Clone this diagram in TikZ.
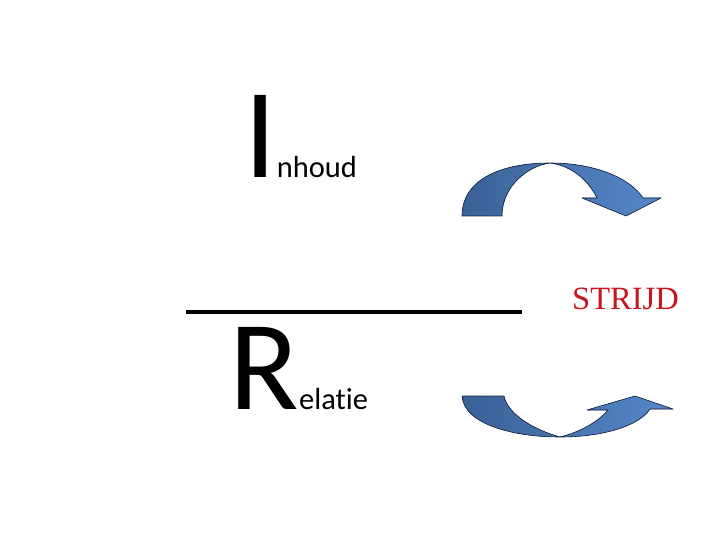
\documentclass[tikz,border=0pt]{standalone}
\usepackage{fontspec}
\setmainfont[Ligatures=NoCommon]{Carlito}
\newfontfamily\strijdfont{Liberation Serif}
\usetikzlibrary{positioning}
\definecolor{banddark}{RGB}{58,96,150}
\definecolor{bandmid}{RGB}{72,115,175}
\definecolor{bandlight}{RGB}{84,135,200}
\definecolor{bandedge}{RGB}{20,35,70}
\definecolor{strijdred}{RGB}{200,20,30}

\begin{document}
\begin{tikzpicture}[
    x=1pt, y=-1pt,
    bigletter/.style={inner sep=0pt, anchor=base west, font=\fontsize{128}{128}\selectfont},
    smallword/.style={inner sep=0pt, anchor=base west, font=\fontsize{30.5}{30.5}\selectfont},
    band/.style={draw=bandedge, line width=0.6pt, line join=round},
    leftband/.style={band, left color=banddark, right color=bandmid},
    rightband/.style={band, left color=bandmid, right color=bandlight}
]
\useasboundingbox (0,0) rectangle (720,540);

% woorden
\node[bigletter] (I) at (244,178) {I};
\node[smallword, right=0pt of I.base east, anchor=base west] (nhoud) {nhoud};
\node[bigletter] (R) at (229,409) {R};
\node[smallword, right=0pt of R.base east, anchor=base west] (elatie) {elatie};

% breukstreep
\coordinate (lineL) at (186,312);
\coordinate (lineR) at (522,312);
\draw[line width=4pt] (lineL) -- (lineR);

\node[inner sep=0pt, anchor=base west, text=strijdred,
      font=\strijdfont\fontsize{32.5}{32.5}\selectfont] (strijd) at (572,309) {STRIJD};

% bovenste pijl
\coordinate (topL) at (462,216);
\coordinate (topLi) at (502,216);
\coordinate (topPeak) at (550,163);
\filldraw[leftband] (topL) .. controls (462,180) and (500,163) .. (topPeak)
    .. controls (528,166) and (502,186) .. (topLi) -- cycle;
\filldraw[rightband] (topPeak) .. controls (595,163) and (630,178) .. (643,198)
    -- (661,198) -- (626,216) -- (582,198) -- (597,198)
    .. controls (588,180) and (572,166) .. (topPeak) -- cycle;

% onderste pijl
\coordinate (botL) at (462,396);
\coordinate (botLi) at (504,396);
\coordinate (botLow) at (560,437);
\filldraw[leftband] (botL) .. controls (464,425) and (515,437) .. (botLow)
    .. controls (535,430) and (508,415) .. (botLi) -- cycle;
\filldraw[rightband] (botLow) .. controls (605,437) and (640,425) .. (650,409)
    -- (673,409) -- (635,396) -- (587,410) -- (608,410)
    .. controls (598,422) and (580,432) .. (botLow) -- cycle;
\end{tikzpicture}
\end{document}
